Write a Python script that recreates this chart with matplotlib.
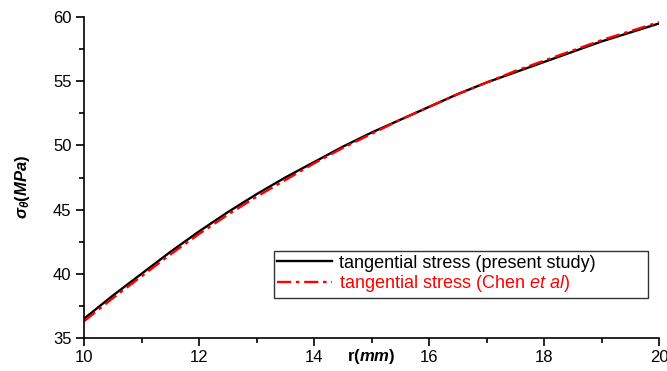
import matplotlib
matplotlib.use("Agg")
import matplotlib.pyplot as plt
from matplotlib.ticker import MultipleLocator

r = [10, 10.5, 11, 11.5, 12, 12.5, 13, 13.5, 14, 14.5, 15, 15.5, 16, 16.5, 17, 17.5, 18, 18.5, 19, 19.5, 20]
present = [36.5, 38.3, 40.0, 41.7, 43.3, 44.8, 46.2, 47.5, 48.7, 49.9, 51.0, 52.0, 53.0, 54.0, 54.9, 55.7, 56.5, 57.3, 58.1, 58.8, 59.5]
chen = [36.3, 38.1, 39.8, 41.5, 43.1, 44.6, 46.0, 47.3, 48.6, 49.8, 50.9, 52.0, 53.0, 54.0, 54.9, 55.8, 56.6, 57.4, 58.2, 58.9, 59.6]

plt.rcParams['font.family'] = ['Liberation Sans', 'DejaVu Sans']
plt.rcParams['mathtext.fontset'] = 'custom'
plt.rcParams['mathtext.rm'] = 'Liberation Sans:bold'
plt.rcParams['mathtext.bf'] = 'Liberation Sans:bold'
plt.rcParams['mathtext.it'] = 'Liberation Sans:bold:italic'
plt.rcParams['mathtext.sf'] = 'Liberation Sans:italic'

fig = plt.figure(figsize=(6.67, 3.71), dpi=100)
ax = fig.add_axes([0.126, 0.089, 0.862, 0.865])

ax.plot(r, present, color='black', lw=1.7, label='tangential stress (present study)')
ax.plot(r, chen, color='red', lw=1.7, dashes=[6, 2, 1.5, 2],
        label='tangential stress (Chen $\\mathsf{et\\ al}$)')

ax.set_xlim(10, 20)
ax.set_ylim(35, 60)
ax.xaxis.set_major_locator(MultipleLocator(2))
ax.xaxis.set_minor_locator(MultipleLocator(1))
ax.yaxis.set_major_locator(MultipleLocator(5))
ax.yaxis.set_minor_locator(MultipleLocator(2.5))
ax.tick_params(which='major', direction='out', length=6, width=1.2, labelsize=12, pad=3)
ax.tick_params(which='minor', direction='out', length=3.5, width=1.2)
for s in ['top', 'right']:
    ax.spines[s].set_visible(False)
for s in ['left', 'bottom']:
    ax.spines[s].set_linewidth(1.2)

ax.set_xlabel(r'r$(\mathit{mm})$', fontsize=12, fontweight='bold')
ax.xaxis.set_label_coords(0.5, -0.027)
ax.set_ylabel(r'$\sigma_\theta(\mathit{MPa})$', fontsize=12, fontweight='bold')
ax.yaxis.set_label_coords(-0.09, 0.47)

leg = ax.legend(loc='center', bbox_to_anchor=(0.330, 0.131, 0.651, 0.134), mode='expand',
                borderaxespad=0, fontsize=13, frameon=True,
                fancybox=False, edgecolor='black', borderpad=0.2, handlelength=3.0,
                labelspacing=0.1, handletextpad=0.4)
leg.get_frame().set_linewidth(1.0)
leg.get_texts()[1].set_color('red')

fig.savefig('out.png', dpi=100)
